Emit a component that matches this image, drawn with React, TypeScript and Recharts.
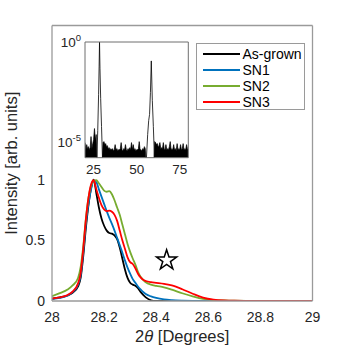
import React from 'react';
import { ComposedChart, Line, Area, XAxis, YAxis, ReferenceDot, Legend, Symbols, Label } from 'recharts';

const FONT = '"Liberation Sans", Arial, Helvetica, sans-serif';
const TEXT = '#262626';
const AXIS = '#9a9a9a';

// ---------- main panel data ----------
const theta = [28.00, 28.03, 28.06, 28.08, 28.10, 28.11, 28.12, 28.13, 28.14, 28.15, 28.16, 28.17, 28.18, 28.19, 28.20, 28.21, 28.22, 28.23, 28.24, 28.25, 28.26, 28.27, 28.28, 28.29, 28.30, 28.31, 28.32, 28.33, 28.34, 28.35, 28.36, 28.38, 28.40, 28.43, 28.46, 28.50, 28.54, 28.58, 28.62, 28.66, 28.70, 28.80, 28.90, 29.00];
const asGrown = [0.02, 0.03, 0.045, 0.07, 0.12, 0.19, 0.37, 0.6, 0.79, 0.93, 1.0, 0.89, 0.77, 0.68, 0.62, 0.58, 0.56, 0.555, 0.54, 0.51, 0.44, 0.35, 0.26, 0.19, 0.15, 0.135, 0.125, 0.105, 0.075, 0.05, 0.03, 0.006, 0.001, 0, 0, 0, 0, 0, 0, 0, 0, 0, 0, 0];
const sn1 = [0.015, 0.025, 0.045, 0.075, 0.135, 0.21, 0.4, 0.63, 0.8, 0.92, 0.99, 0.98, 0.92, 0.86, 0.8, 0.74, 0.685, 0.635, 0.58, 0.52, 0.46, 0.4, 0.335, 0.275, 0.225, 0.18, 0.15, 0.12, 0.095, 0.074, 0.058, 0.038, 0.025, 0.013, 0.007, 0.003, 0.001, 0, 0, 0, 0, 0, 0, 0];
const sn2 = [0.04, 0.065, 0.095, 0.13, 0.19, 0.28, 0.45, 0.68, 0.85, 0.95, 0.99, 0.995, 0.97, 0.94, 0.91, 0.9, 0.905, 0.88, 0.83, 0.77, 0.71, 0.63, 0.55, 0.47, 0.405, 0.35, 0.3, 0.24, 0.2, 0.175, 0.155, 0.135, 0.125, 0.112, 0.093, 0.064, 0.038, 0.017, 0.008, 0.004, 0.002, 0.001, 0, 0];
const sn3 = [0.02, 0.03, 0.05, 0.08, 0.145, 0.23, 0.43, 0.67, 0.85, 0.96, 0.995, 0.92, 0.85, 0.79, 0.755, 0.74, 0.745, 0.735, 0.71, 0.66, 0.58, 0.5, 0.43, 0.36, 0.32, 0.305, 0.27, 0.225, 0.195, 0.175, 0.165, 0.155, 0.15, 0.142, 0.128, 0.097, 0.06, 0.028, 0.011, 0.004, 0.002, 0.001, 0.001, 0.001];

const seriesKeys = ['asGrown', 'sn1', 'sn2', 'sn3'];
const seriesNames = ['As-grown', 'SN1', 'SN2', 'SN3'];
const seriesColors = ['#000000', '#0072BD', '#77AC30', '#FF0000'];

const xTicks = [28, 28.2, 28.4, 28.6, 28.8, 29];
const yTicks = [0, 0.5, 1];
const xDomain = [28, 29];
const yDomain = [0, 2.27];

const starTheta = 28.44;
const starLevel = 0.335;

// ---------- inset data (log10 of intensity) ----------
const noiseAngle = [
  20, 20.5, 21, 21.5, 22, 22.5, 23, 23.5, 24, 24.5,
  25, 25.5, 26, 26.5, 27, 27.5, 28, 28.5, 29, 29.5,
  30, 30.5, 31, 31.5, 32, 32.5, 33, 33.5, 34, 34.5,
  35, 35.5, 36, 36.5, 37, 37.5, 38, 38.5, 39, 39.5,
  40, 40.5, 41, 41.5, 42, 42.5, 43, 43.5, 44, 44.5,
  45, 45.5, 46, 46.5, 47, 47.5, 48, 48.5, 49, 49.5,
  50, 50.5, 51, 51.5, 52, 52.5, 53, 53.5, 54, 54.5,
  55, 55.5, 56, 56.5, 57, 57.5, 58, 58.5, 59, 59.5,
  60, 60.5, 61, 61.5, 62, 62.5, 63, 63.5, 64, 64.5,
  65, 65.5, 66, 66.5, 67, 67.5, 68, 68.5, 69, 69.5,
  70, 70.5, 71, 71.5, 72, 72.5, 73, 73.5, 74, 74.5,
  75, 75.5, 76, 76.5, 77, 77.5, 78, 78.5, 79, 79.5,
  80,
];
const noiseExp = [
  -5.0, -5.35, -5.1, -5.3, -5.2, -5.35, -5.25, -4.7, -5.3, -5.05,
  -4.85, -4.3, -4.9, -4.6, -6, -6, -6, -6, -6, -6,
  -6, -5.0, -4.95, -5.1, -5.05, -5.2, -5.15, -5.3, -5.25, -5.35,
  -5.3, -5.35, -5.3, -5.4, -5.35, -5.1, -5.35, -5.3, -5.4, -5.35,
  -5.35, -5.3, -5.0, -5.35, -5.4, -5.3, -5.35, -5.1, -5.35, -5.4,
  -5.3, -5.35, -5.25, -5.35, -5.0, -5.35, -5.1, -5.35, -5.3, -5.4,
  -5.35, -5.35, -5.3, -4.95, -5.35, -5.35, -5.4, -5.3, -5.35, -5.2,
  -5.3, -6, -6, -6, -6, -6, -6, -6, -6, -6,
  -6, -4.95, -5.0, -5.1, -5.05, -5.2, -5.15, -5.0, -5.3, -5.25,
  -5.3, -5.0, -5.3, -5.35, -5.1, -5.35, -5.3, -5.35, -5.2, -4.95,
  -5.35, -5.3, -5.35, -5.1, -5.35, -5.3, -5.4, -5.05, -5.35, -5.3,
  -5.35, -5.1, -5.35, -5.3, -5.05, -5.35, -5.3, -5.35, -5.1, -5.3,
  -5.35,
];
const peak1Angle = [26.9, 27.4, 27.9, 28.2, 28.44, 28.7, 29.1, 29.6, 30.2];
const peak1Exp = [-5.9, -4.4, -2.6, -1.2, 0, -1.3, -2.8, -4.2, -5.9];
const peak2Angle = [55.6, 56.4, 57.0, 57.5, 58.0, 58.5, 59.1, 59.7, 60.4];
const peak2Exp = [-5.9, -4.6, -3.9, -3.6, -2.5, -0.94, -2.9, -4.2, -5.9];

const insetXTicks = [25, 50, 75];
const insetYTicks = [-5, -4, -3, -2, -1, 0];
const insetYLabelled = [0, -5];
const insetXDomain = [20, 80];
const insetYDomain = [-5.75, 0];

// ---------- tables ----------
const mainData = theta.map((t, i) => ({
  theta: t,
  asGrown: asGrown[i],
  sn1: sn1[i],
  sn2: sn2[i],
  sn3: sn3[i],
}));
const noiseData = noiseAngle.map((a, i) => ({ angle: a, exp: noiseExp[i] }));
const peak1Data = peak1Angle.map((a, i) => ({ angle: a, exp: peak1Exp[i] }));
const peak2Data = peak2Angle.map((a, i) => ({ angle: a, exp: peak2Exp[i] }));

const YTitle = (props: any) => {
  const vb = props.viewBox;
  const cy = vb.y + vb.height / 2;
  const bx = vb.x + 4.7;
  return (
    <text
      transform={`translate(${bx},${cy}) rotate(-90)`}
      x={0}
      y={0}
      textAnchor="middle"
      fontFamily={FONT}
      fontSize={16.5}
      fill={TEXT}
    >
      Intensity [arb. units]
    </text>
  );
};

const XTitle = (props: any) => {
  const vb = props.viewBox;
  const cx = vb.x + vb.width / 2;
  const by = vb.y + 41;
  return (
    <text x={cx} y={by} textAnchor="middle" fontFamily={FONT} fontSize={16.5} fill={TEXT}>
      2<tspan fontStyle="italic">θ</tspan> [Degrees]
    </text>
  );
};

const InsetYTick = (props: any) => {
  const { x, y, payload } = props;
  const v = Math.round(Number(payload.value));
  if (!insetYLabelled.includes(v)) return <g />;
  return (
    <text x={x} y={y} textAnchor="end" dy="0.355em" fontFamily={FONT} fontSize={13.5} fill={TEXT}>
      10
      <tspan dy={-6} fontSize={9.5}>
        {v === 0 ? '0' : '-5'}
      </tspan>
    </text>
  );
};

const StarShape = (props: any) => (
  <Symbols cx={props.cx} cy={props.cy} type="star" size={125} fill="none" stroke="#000" strokeWidth={1.5} />
);

const LegendBox = () => (
  <div
    style={{
      border: '1px solid #9a9a9a',
      background: '#fff',
      width: 109,
      height: 67,
      boxSizing: 'border-box',
      paddingTop: 2,
      fontFamily: FONT,
      fontSize: 14,
      color: '#000',
    }}
  >
    {seriesNames.map((n, i) => (
      <div key={n} style={{ display: 'flex', alignItems: 'center', height: 16 }}>
        <div style={{ marginLeft: 6, width: 37, height: 2, background: seriesColors[i] }} />
        <span style={{ marginLeft: 3, lineHeight: '16px' }}>{n}</span>
      </div>
    ))}
  </div>
);

export default function App() {
  return (
    <div style={{ position: 'absolute', left: 0, top: 0, width: 346, height: 346, background: '#fff', overflow: 'hidden' }}>
      <div style={{ position: 'absolute', left: 0, top: 0 }}>
        <ComposedChart width={346} height={346} data={mainData} margin={{ top: 25.5, right: 33.5, left: 12, bottom: 15 }}>
          <XAxis
            xAxisId="x"
            dataKey="theta"
            type="number"
            domain={xDomain}
            ticks={xTicks}
            interval={0}
            allowDataOverflow
            height={30}
            tickLine={false}
            tickSize={6}
            tickMargin={5}
            axisLine={{ stroke: AXIS, strokeWidth: 1.3 }}
            tick={{ fill: TEXT, fontSize: 14, fontFamily: FONT }}
          >
            <Label content={XTitle} />
          </XAxis>
          <XAxis
            xAxisId="xin"
            dataKey="theta"
            type="number"
            domain={xDomain}
            ticks={xTicks}
            interval={0}
            allowDataOverflow
            mirror
            tick={false}
            tickSize={4}
            axisLine={false}
            tickLine={{ stroke: AXIS }}
          />
          <XAxis
            xAxisId="xtop"
            orientation="top"
            dataKey="theta"
            type="number"
            domain={xDomain}
            ticks={xTicks}
            interval={0}
            allowDataOverflow
            mirror
            tick={false}
            tickSize={4}
            axisLine={{ stroke: AXIS, strokeWidth: 1.3 }}
            tickLine={{ stroke: AXIS }}
          />
          <YAxis
            yAxisId="y"
            type="number"
            domain={yDomain}
            ticks={yTicks}
            interval={0}
            allowDataOverflow
            width={40}
            tickLine={false}
            tickSize={6}
            tickMargin={1}
            axisLine={{ stroke: AXIS, strokeWidth: 1.3 }}
            tick={{ fill: TEXT, fontSize: 14, fontFamily: FONT }}
          >
            <Label content={YTitle} />
          </YAxis>
          <YAxis
            yAxisId="yin"
            type="number"
            domain={yDomain}
            ticks={yTicks}
            interval={0}
            allowDataOverflow
            mirror
            tick={false}
            tickSize={4}
            axisLine={false}
            tickLine={{ stroke: AXIS }}
          />
          <YAxis
            yAxisId="yright"
            orientation="right"
            type="number"
            domain={yDomain}
            ticks={yTicks}
            interval={0}
            allowDataOverflow
            mirror
            tick={false}
            tickSize={4}
            axisLine={{ stroke: AXIS, strokeWidth: 1.3 }}
            tickLine={{ stroke: AXIS }}
          />
          {seriesKeys.map((k, i) => (
            <Line
              key={k}
              xAxisId="x"
              yAxisId="y"
              type="monotone"
              dataKey={k}
              name={seriesNames[i]}
              stroke={seriesColors[i]}
              strokeWidth={1.8}
              dot={false}
              activeDot={false}
              isAnimationActive={false}
            />
          ))}
          <ReferenceDot
            xAxisId="x"
            yAxisId="y"
            x={starTheta}
            y={starLevel}
            ifOverflow="visible"
            shape={StarShape}
          />
          <Legend
            layout="vertical"
            align="center"
            verticalAlign="middle"
            content={LegendBox}
            wrapperStyle={{ position: 'absolute', left: 195.5, top: 42.5, width: 109, height: 67 }}
          />
        </ComposedChart>
      </div>
      <div style={{ position: 'absolute', left: 0, top: 0, pointerEvents: 'none' }}>
        <ComposedChart width={346} height={346} margin={{ top: 42, right: 157.7, left: 55, bottom: 168.3 }}>
          <XAxis
            xAxisId="ix"
            dataKey="angle"
            type="number"
            domain={insetXDomain}
            ticks={insetXTicks}
            interval={0}
            allowDataOverflow
            height={20}
            tickLine={false}
            tickSize={4}
            tickMargin={3}
            axisLine={{ stroke: '#6e6e6e', strokeWidth: 1 }}
            tick={{ fill: TEXT, fontSize: 13.5, fontFamily: FONT }}
          />
          <XAxis
            xAxisId="ixin"
            dataKey="angle"
            type="number"
            domain={insetXDomain}
            ticks={insetXTicks}
            interval={0}
            allowDataOverflow
            mirror
            tick={false}
            tickSize={3}
            axisLine={false}
            tickLine={{ stroke: '#6e6e6e' }}
          />
          <XAxis
            xAxisId="ixtop"
            orientation="top"
            dataKey="angle"
            type="number"
            domain={insetXDomain}
            ticks={insetXTicks}
            interval={0}
            allowDataOverflow
            mirror
            tick={false}
            tickSize={3}
            axisLine={{ stroke: '#6e6e6e', strokeWidth: 1 }}
            tickLine={{ stroke: '#6e6e6e' }}
          />
          <YAxis
            yAxisId="iy"
            type="number"
            domain={insetYDomain}
            ticks={insetYTicks}
            interval={0}
            allowDataOverflow
            width={30}
            tickLine={false}
            tickSize={4}
            tickMargin={0}
            axisLine={{ stroke: '#6e6e6e', strokeWidth: 1 }}
            tick={InsetYTick}
          />
          <YAxis
            yAxisId="iyin"
            type="number"
            domain={insetYDomain}
            ticks={insetYTicks}
            interval={0}
            allowDataOverflow
            mirror
            tick={false}
            tickSize={3}
            axisLine={false}
            tickLine={{ stroke: '#6e6e6e' }}
          />
          <YAxis
            yAxisId="iyright"
            orientation="right"
            type="number"
            domain={insetYDomain}
            ticks={insetYTicks}
            interval={0}
            allowDataOverflow
            mirror
            tick={false}
            tickSize={3}
            axisLine={{ stroke: '#6e6e6e', strokeWidth: 1 }}
            tickLine={{ stroke: '#6e6e6e' }}
          />
          <Area
            xAxisId="ix"
            yAxisId="iy"
            data={noiseData}
            dataKey="exp"
            type="linear"
            baseValue="dataMin"
            stroke="#000"
            strokeWidth={0.7}
            fill="#000"
            fillOpacity={1}
            dot={false}
            activeDot={false}
            isAnimationActive={false}
          />
          <Line
            xAxisId="ix"
            yAxisId="iy"
            data={peak1Data}
            dataKey="exp"
            type="linear"
            stroke="#000"
            strokeWidth={0.8}
            dot={false}
            activeDot={false}
            isAnimationActive={false}
          />
          <Line
            xAxisId="ix"
            yAxisId="iy"
            data={peak2Data}
            dataKey="exp"
            type="linear"
            stroke="#000"
            strokeWidth={0.8}
            dot={false}
            activeDot={false}
            isAnimationActive={false}
          />
        </ComposedChart>
      </div>
    </div>
  );
}
